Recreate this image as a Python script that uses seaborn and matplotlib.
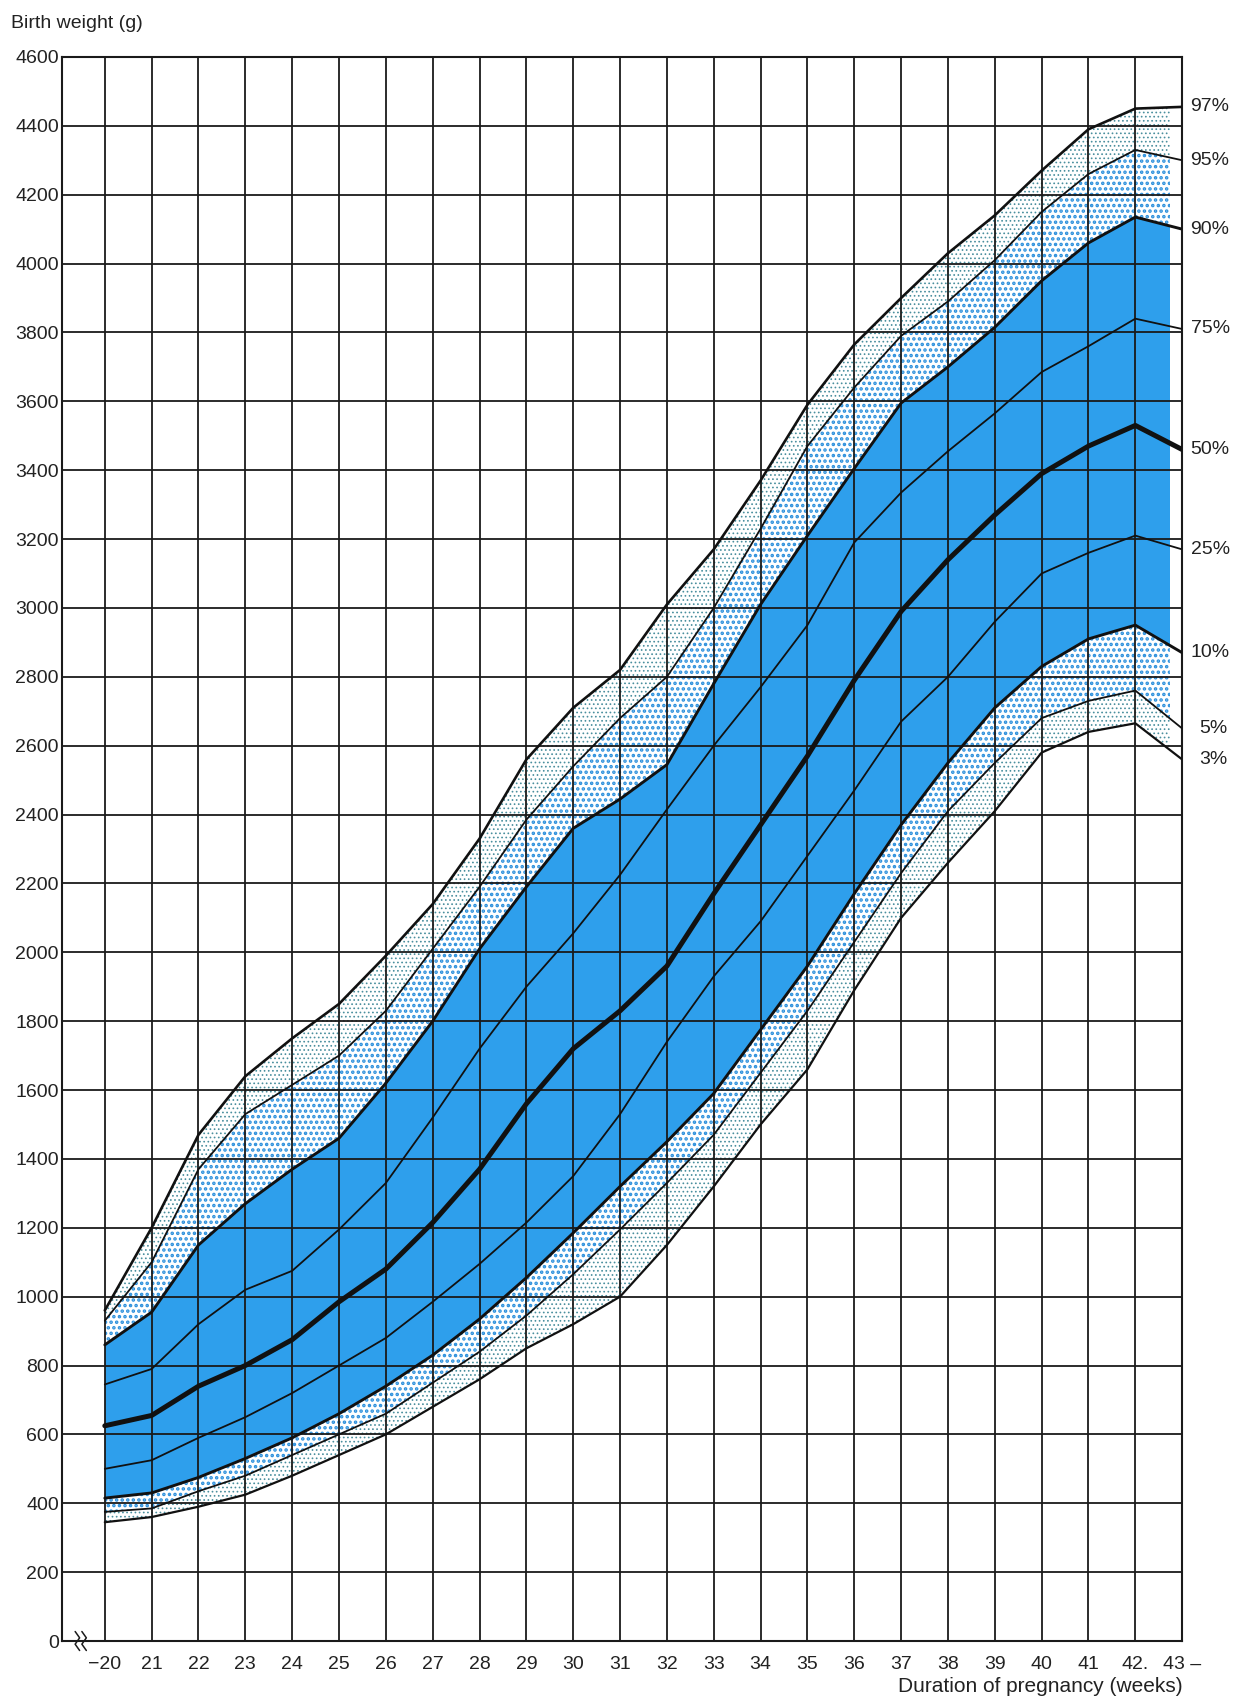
import numpy as np
import pandas as pd
import matplotlib
matplotlib.use("Agg")
import matplotlib.pyplot as plt
from matplotlib.patches import Rectangle
import seaborn as sns

# gestational week (x) and birth weight percentiles in grams
weeks = list(range(20, 44))
p97 = [960, 1200, 1470, 1640, 1750, 1850, 1990, 2140, 2330, 2560, 2710, 2820,
       3010, 3170, 3370, 3590, 3765, 3900, 4030, 4140, 4270, 4390, 4450, 4455]
p95 = [930, 1100, 1370, 1530, 1615, 1700, 1830, 2010, 2190, 2385, 2540, 2680,
       2800, 3000, 3230, 3470, 3640, 3790, 3890, 4010, 4150, 4260, 4330, 4300]
p90 = [860, 955, 1150, 1270, 1370, 1460, 1620, 1800, 2010, 2190, 2360, 2445,
       2545, 2780, 3010, 3210, 3405, 3595, 3700, 3815, 3950, 4060, 4135, 4100]
p75 = [745, 790, 920, 1020, 1075, 1195, 1330, 1520, 1720, 1900, 2055, 2225,
       2415, 2600, 2770, 2950, 3190, 3335, 3455, 3565, 3685, 3760, 3840, 3810]
p50 = [625, 655, 740, 800, 875, 985, 1080, 1215, 1370, 1560, 1720, 1830,
       1960, 2170, 2370, 2570, 2790, 2990, 3140, 3270, 3390, 3470, 3530, 3460]
p25 = [500, 525, 590, 650, 720, 800, 880, 985, 1095, 1215, 1350, 1530,
       1740, 1930, 2090, 2280, 2470, 2670, 2800, 2960, 3100, 3160, 3210, 3170]
p10 = [415, 430, 475, 530, 590, 660, 740, 830, 935, 1055, 1185, 1320,
       1450, 1590, 1775, 1960, 2170, 2370, 2550, 2710, 2830, 2910, 2950, 2870]
p5 = [375, 385, 435, 480, 540, 600, 660, 750, 840, 945, 1065, 1195,
      1330, 1470, 1650, 1830, 2030, 2230, 2410, 2550, 2680, 2730, 2760, 2650]
p3 = [345, 360, 390, 425, 480, 540, 600, 680, 760, 850, 920, 1000,
      1150, 1320, 1500, 1660, 1890, 2100, 2260, 2410, 2580, 2640, 2665, 2560]

pct_labels = ["97%", "95%", "90%", "75%", "50%", "25%", "10%", "5%", "3%"]
pct_series = [p97, p95, p90, p75, p50, p25, p10, p5, p3]
line_widths = [1.9, 1.3, 2.1, 1.3, 3.6, 1.3, 2.1, 1.3, 1.6]

x_ticks = list(range(20, 44))
x_tick_labels = ["\u221220"] + [str(w) for w in range(21, 42)] + ["42.", "43 \u2013"]
y_ticks = list(range(0, 4601, 200))

df = pd.DataFrame({"week": weeks, **dict(zip(pct_labels, pct_series))})

sns.set_theme(style="white")
plt.rcParams["font.family"] = ["Liberation Sans", "DejaVu Sans"]
plt.rcParams["hatch.linewidth"] = 1.6

fig = plt.figure(figsize=(12.34, 17), dpi=100)
ax = fig.add_axes([0.050, 0.0347, 0.908, 0.9318])

blue = "#2e9fec"
dot_dense = "#2a8fdc"
dot_light = "#4a8f9e"

# shaded bands, cut off a little before the right edge like the original
clip = Rectangle((20, 0), 22.75, 5000, transform=ax.transData)
bands = [
    (p10, p90, dict(facecolor=blue, edgecolor="none"), None),
    (p90, p95, dict(facecolor="white", edgecolor=dot_dense, hatch="..."), 1.7),
    (p5, p10, dict(facecolor="white", edgecolor=dot_dense, hatch="..."), 1.7),
    (p95, p97, dict(facecolor="white", edgecolor=dot_light, hatch="...."), 0.7),
    (p3, p5, dict(facecolor="white", edgecolor=dot_light, hatch="...."), 0.7),
]
for lo, hi, kw, hlw in bands:
    poly = ax.fill_between(df["week"], lo, hi, linewidth=0, zorder=1, **kw)
    if hlw is not None and hasattr(poly, "set_hatch_linewidth"):
        poly.set_hatch_linewidth(hlw)
    poly.set_clip_path(clip)

# percentile curves
for lab, lw in zip(pct_labels, line_widths):
    sns.lineplot(data=df, x="week", y=lab, ax=ax, color="#111111",
                 linewidth=lw, zorder=4, estimator=None)
    ax.annotate(lab, xy=(df["week"].iloc[-1], df[lab].iloc[-1]),
                xytext=(6 if lab not in ("5%", "3%") else 12, 0),
                textcoords="offset points", ha="left", va="center",
                fontsize=14, color="#222222", annotation_clip=False)

ax.set_xlim(19.08, 43.0)
ax.set_ylim(0, 4600)
ax.set_xticks(x_ticks)
ax.set_xticklabels(x_tick_labels, fontsize=14, color="#222222")
ax.set_yticks(y_ticks)
ax.set_yticklabels([str(v) for v in y_ticks], fontsize=14, color="#222222")
ax.tick_params(axis="both", length=0)
ax.tick_params(axis="x", pad=11)
ax.tick_params(axis="y", pad=2)

ax.set_axisbelow(False)
ax.grid(True, color="#1a1a1a", linewidth=1.3, zorder=2)
for s in ax.spines.values():
    s.set_color("#1a1a1a")
    s.set_linewidth(1.5)
    s.set_visible(True)

ax.set_xlabel("")
ax.set_ylabel("")

# axis break mark near the origin
for dx in (0.0, 0.006):
    ax.plot(np.array([0.012, 0.016, 0.012, 0.016]) + dx,
            [0.006, 0.002, -0.002, -0.006], transform=ax.transAxes,
            color="#1a1a1a", lw=1.1, clip_on=False, zorder=5)

fig.text(0.009, 1 - 23 / 1700, "Birth weight (g)", fontsize=14,
         color="#222222", ha="left", va="center")
fig.text(0.958, 0.008, "Duration of pregnancy (weeks)", fontsize=15,
         color="#222222", ha="right", va="center")

fig.savefig("out.png", dpi=100)
